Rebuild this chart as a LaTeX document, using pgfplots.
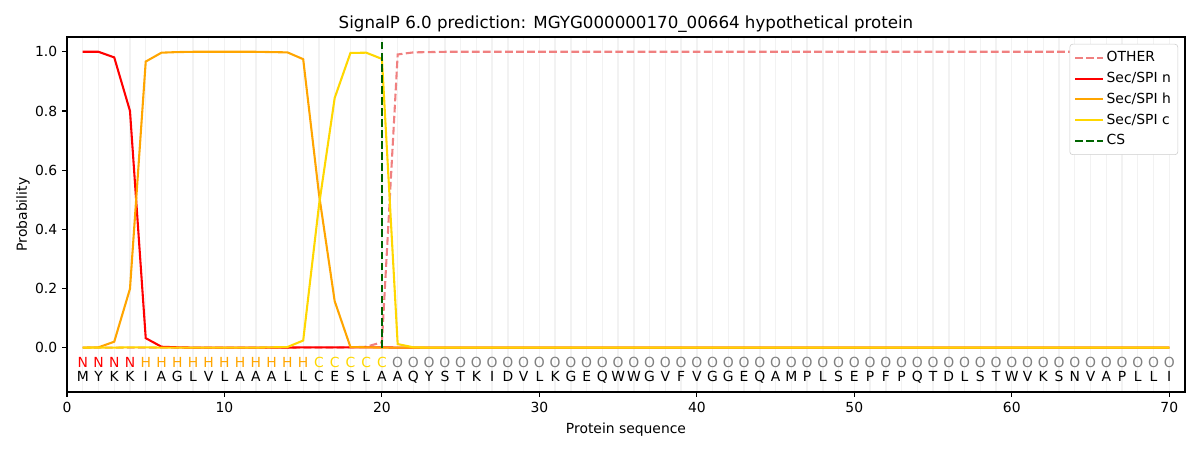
\documentclass[border=0pt]{standalone}
\usepackage{fontspec}
\setmainfont{DejaVu Sans}
\usepackage{pgfplots}
\usepackage{pgfplotstable}
\pgfplotsset{compat=1.18}
\definecolor{cother}{HTML}{F08080}
\definecolor{cn}{HTML}{FF0000}
\definecolor{ch}{HTML}{FFA500}
\definecolor{cc}{HTML}{FFD700}
\definecolor{ccs}{HTML}{006400}
\definecolor{cO}{HTML}{808080}
\definecolor{cgrid}{HTML}{F2F2F2}

\pgfplotstableread{
x n h c o
1 1.000 0.000 0.000 0.000
2 1.000 0.001 0.000 0.000
3 0.981 0.020 0.000 0.000
4 0.800 0.199 0.001 0.000
5 0.032 0.967 0.001 0.000
6 0.003 0.997 0.000 0.000
7 0.001 0.999 0.000 0.000
8 0.000 1.000 0.000 0.000
9 0.000 1.000 0.000 0.000
10 0.000 1.000 0.000 0.000
11 0.000 1.000 0.000 0.000
12 0.000 1.000 0.000 0.000
13 0.000 0.999 0.001 0.000
14 0.000 0.998 0.002 0.000
15 0.001 0.975 0.024 0.000
16 0.001 0.520 0.480 0.000
17 0.001 0.157 0.844 0.000
18 0.001 0.002 0.996 0.001
19 0.001 0.001 0.997 0.003
20 0.001 0.000 0.976 0.018
21 0.000 0.000 0.012 0.991
22 0.000 0.000 0.001 0.998
23 0.000 0.000 0.000 0.999
24 0.000 0.000 0.000 1.000
70 0.000 0.000 0.000 1.000
}\probs

\pgfplotstableread{
x y l
1 -0.114 M
2 -0.114 Y
3 -0.114 K
4 -0.114 K
5 -0.114 I
6 -0.114 A
7 -0.114 G
8 -0.114 L
9 -0.114 V
10 -0.114 L
11 -0.114 A
12 -0.114 A
13 -0.114 A
14 -0.114 L
15 -0.114 L
16 -0.114 C
17 -0.114 E
18 -0.114 S
19 -0.114 L
20 -0.114 A
21 -0.114 A
22 -0.114 Q
23 -0.114 Y
24 -0.114 S
25 -0.114 T
26 -0.114 K
27 -0.114 I
28 -0.114 D
29 -0.114 V
30 -0.114 L
31 -0.114 K
32 -0.114 G
33 -0.114 E
34 -0.114 Q
35 -0.114 W
36 -0.114 W
37 -0.114 G
38 -0.114 V
39 -0.114 F
40 -0.114 V
41 -0.114 G
42 -0.114 G
43 -0.114 E
44 -0.114 Q
45 -0.114 A
46 -0.114 M
47 -0.114 P
48 -0.114 L
49 -0.114 S
50 -0.114 E
51 -0.114 P
52 -0.114 F
53 -0.114 P
54 -0.114 Q
55 -0.114 T
56 -0.114 D
57 -0.114 L
58 -0.114 S
59 -0.114 T
60 -0.114 W
61 -0.114 V
62 -0.114 K
63 -0.114 S
64 -0.114 N
65 -0.114 V
66 -0.114 A
67 -0.114 P
68 -0.114 L
69 -0.114 L
70 -0.114 I
}\seqaa

\pgfplotstableread{
x y l
1 -0.067 N
2 -0.067 N
3 -0.067 N
4 -0.067 N
}\labN
\pgfplotstableread{
x y l
5 -0.067 H
6 -0.067 H
7 -0.067 H
8 -0.067 H
9 -0.067 H
10 -0.067 H
11 -0.067 H
12 -0.067 H
13 -0.067 H
14 -0.067 H
15 -0.067 H
}\labH
\pgfplotstableread{
x y l
16 -0.067 C
17 -0.067 C
18 -0.067 C
19 -0.067 C
20 -0.067 C
}\labC
\pgfplotstableread{
x y l
21 -0.067 O
22 -0.067 O
23 -0.067 O
24 -0.067 O
25 -0.067 O
26 -0.067 O
27 -0.067 O
28 -0.067 O
29 -0.067 O
30 -0.067 O
31 -0.067 O
32 -0.067 O
33 -0.067 O
34 -0.067 O
35 -0.067 O
36 -0.067 O
37 -0.067 O
38 -0.067 O
39 -0.067 O
40 -0.067 O
41 -0.067 O
42 -0.067 O
43 -0.067 O
44 -0.067 O
45 -0.067 O
46 -0.067 O
47 -0.067 O
48 -0.067 O
49 -0.067 O
50 -0.067 O
51 -0.067 O
52 -0.067 O
53 -0.067 O
54 -0.067 O
55 -0.067 O
56 -0.067 O
57 -0.067 O
58 -0.067 O
59 -0.067 O
60 -0.067 O
61 -0.067 O
62 -0.067 O
63 -0.067 O
64 -0.067 O
65 -0.067 O
66 -0.067 O
67 -0.067 O
68 -0.067 O
69 -0.067 O
70 -0.067 O
}\labO

\begin{document}
\begin{tikzpicture}
\path[use as bounding box] (-48.24pt,-41.76pt) rectangle (815.76pt,282.24pt);
\begin{axis}[
  at={(0,0)}, anchor=south west, scale only axis,
  width=804.96pt, height=255.6pt,
  xmin=0, xmax=71, ymin=-0.15, ymax=1.05,
  axis line style={line width=0.8pt},
  tick style={line width=0.8pt, black},
  major tick length=3.5pt,
  tick align=outside,
  xtick pos=bottom, ytick pos=left,
  xtick={0,10,...,70},
  ytick={0,0.2,0.4,0.6,0.8,1.0},
  minor xtick={1,...,70},
  minor tick length=0pt,
  xminorgrids=true,
  minor grid style={line width=1pt, cgrid},
  /pgf/number format/assume math mode=true,
  ticklabel style={font=\fontsize{10}{12}\selectfont},
  yticklabel style={/pgf/number format/fixed, /pgf/number format/precision=1, /pgf/number format/fixed zerofill},
  xticklabel style={yshift=-0.5pt},
  title={SignalP 6.0 prediction: MGYG000000170\_00664 hypothetical protein},
  title style={font=\fontsize{12}{14}\selectfont, yshift=-6pt},
  xlabel={Protein sequence},
  ylabel={Probability},
  ylabel style={yshift=-3pt},
  label style={font=\fontsize{10}{12}\selectfont},
  legend cell align=left,
  legend style={at={(1,1)}, anchor=north east, xshift=-5pt, yshift=-5pt,
    draw=black!20, rounded corners=2pt, font=\fontsize{10}{12}\selectfont,
    row sep=1.5pt, inner sep=3pt,
    nodes={inner sep=2pt, text height=7.5pt, text depth=2pt}},
  legend image code/.code={\draw[#1] (0pt,0pt) -- (20pt,0pt);},
]
\addplot[cother, line width=1.5pt, dash pattern=on 5.55pt off 2.4pt] table[x=x, y=o] {\probs};
\addlegendentry{OTHER}
\addplot[cn, line width=1.5pt] table[x=x, y=n] {\probs};
\addlegendentry{Sec/SPI n}
\addplot[ch, line width=1.5pt] table[x=x, y=h] {\probs};
\addlegendentry{Sec/SPI h}
\addplot[cc, line width=1.5pt] table[x=x, y=c] {\probs};
\addlegendentry{Sec/SPI c}
\addplot[ccs, line width=1.5pt, dash pattern=on 5.55pt off 2.4pt] coordinates {(20,0) (20,1.035)};
\addlegendentry{CS}

\addplot[forget plot, draw=none, mark=none, nodes near coords, point meta=explicit symbolic,
  nodes near coords style={anchor=base, inner sep=0pt, text=black, font=\fontsize{10}{12}\selectfont}]
  table[x=x, y=y, meta=l] {\seqaa};
\addplot[forget plot, draw=none, mark=none, nodes near coords, point meta=explicit symbolic,
  nodes near coords style={anchor=base, inner sep=0pt, text=cn, font=\fontsize{10}{12}\selectfont}]
  table[x=x, y=y, meta=l] {\labN};
\addplot[forget plot, draw=none, mark=none, nodes near coords, point meta=explicit symbolic,
  nodes near coords style={anchor=base, inner sep=0pt, text=ch, font=\fontsize{10}{12}\selectfont}]
  table[x=x, y=y, meta=l] {\labH};
\addplot[forget plot, draw=none, mark=none, nodes near coords, point meta=explicit symbolic,
  nodes near coords style={anchor=base, inner sep=0pt, text=cc, font=\fontsize{10}{12}\selectfont}]
  table[x=x, y=y, meta=l] {\labC};
\addplot[forget plot, draw=none, mark=none, nodes near coords, point meta=explicit symbolic,
  nodes near coords style={anchor=base, inner sep=0pt, text=cO, font=\fontsize{10}{12}\selectfont}]
  table[x=x, y=y, meta=l] {\labO};
\end{axis}
\end{tikzpicture}
\end{document}
